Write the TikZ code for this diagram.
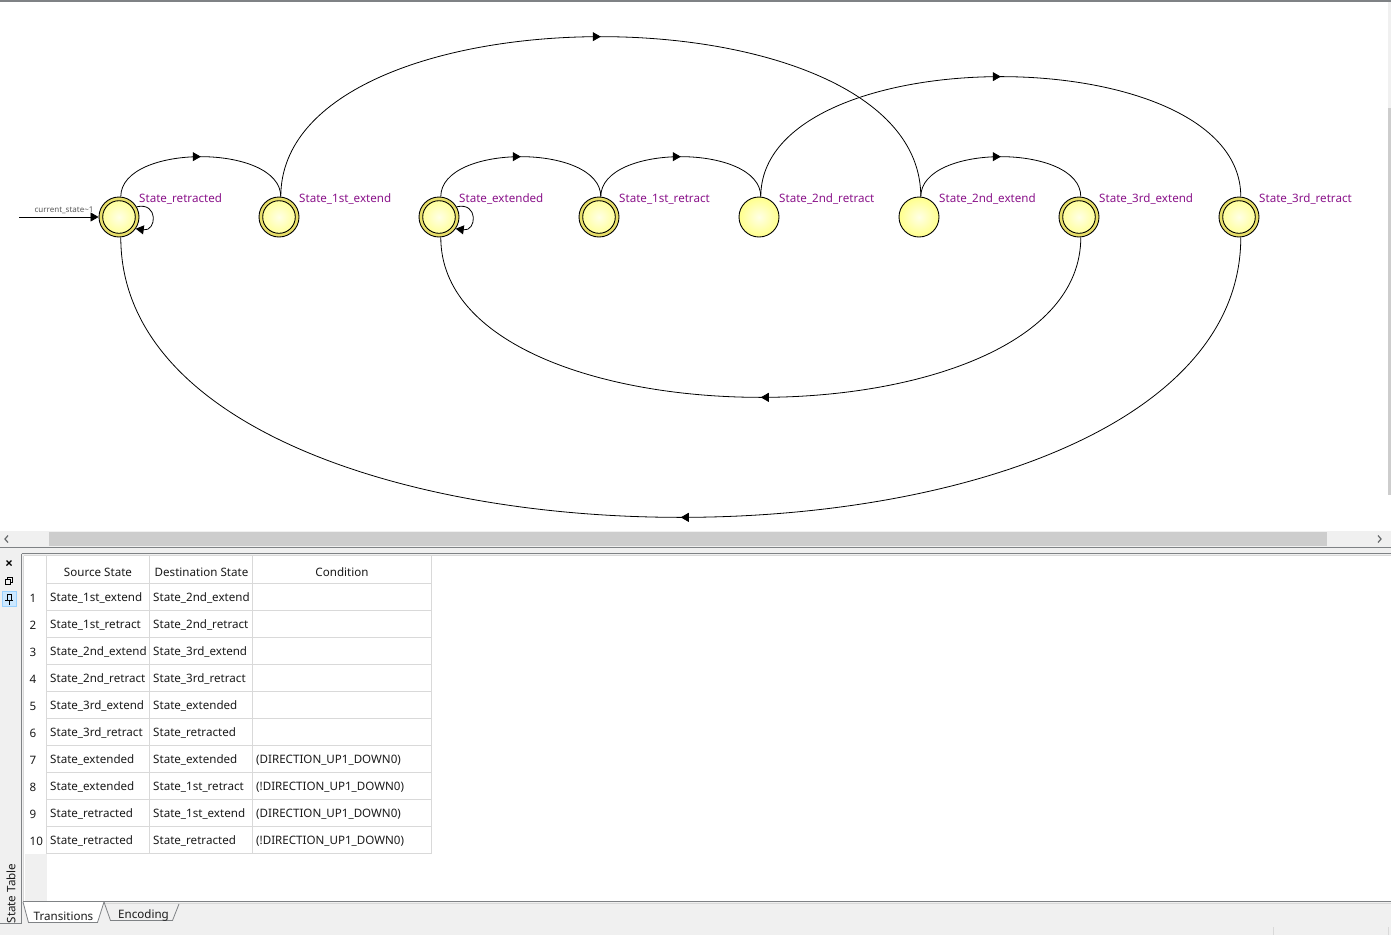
\documentclass[tikz,border=0pt]{standalone}
\usepackage{fontspec}
\setmainfont{Noto Sans}
\usetikzlibrary{arrows.meta,decorations.markings}
\definecolor{framegray}{HTML}{7F8285}
\definecolor{panelbg}{HTML}{F0F0F0}
\definecolor{gridc}{HTML}{D9D9D9}
\definecolor{thumb}{HTML}{CDCDCD}
\definecolor{labc}{HTML}{8A128A}
\definecolor{ringc}{HTML}{E9E06A}
\definecolor{fillin}{HTML}{FFFFE6}
\definecolor{fillout}{HTML}{FFFF8C}
\definecolor{txt}{HTML}{1A1A1A}
\definecolor{pinfill}{HTML}{CCE8FF}
\definecolor{pindraw}{HTML}{99D1FF}
\begin{document}
\begin{tikzpicture}[x=1pt,y=-1pt,
  font=\fontsize{11.6}{13}\selectfont,
  plain/.style={circle, draw, line width=0.9pt, minimum size=40pt, inner sep=0pt,
    inner color=fillin, outer color=fillout},
  accst/.style={circle, draw, line width=0.9pt, minimum size=40pt, inner sep=0pt,
    fill=ringc,
    path picture={\draw[line width=0.9pt, inner color=fillin, outer color=fillout]
      (path picture bounding box.center) circle (16.3pt);}},
  lab/.style={anchor=west, text=labc, inner sep=0pt},
  cell/.style={anchor=west, text=txt, inner sep=0pt},
  hcell/.style={anchor=center, text=txt, inner sep=0pt},
  edge/.style={line width=0.8pt},
  midarrow/.style={postaction={decorate}, decoration={markings,
    mark=at position 0.5 with {\arrow{Triangle[length=8pt,width=9pt]}}}},
  tipend/.style={-{Triangle[length=8pt,width=9pt]}}
]
\useasboundingbox (0,0) rectangle (1391,935);

% ---------- window chrome ----------
\fill[white] (0,0) rectangle (1391,531);
\draw[framegray, line width=1.5pt] (0,0.75) -- (1391,0.75);
% vertical scrollbar
\fill[panelbg] (1388,1.5) rectangle (1391,108);
\fill[thumb] (1388,108) rectangle (1391,495);
% horizontal scrollbar
\fill[panelbg] (0,531) rectangle (1391,547);
\fill[thumb] (49,532) rectangle (1327,546);
\draw[framegray!80!black, line width=1.2pt] (8,535.5) -- (5,539) -- (8,542.5);
\draw[framegray!80!black, line width=1.2pt] (1378,535.5) -- (1381,539) -- (1378,542.5);
\draw[framegray, line width=1pt] (0,547.5) -- (1391,547.5);
% lower panel background
\fill[panelbg] (0,548) rectangle (1391,935);
\draw[framegray, line width=0.9pt] (21.5,553.5) -- (1391,553.5);
\draw[framegray, line width=0.9pt] (21.5,553.5) -- (21.5,923.5) -- (0,923.5);
\draw[gridc, line width=0.9pt] (23.5,555.5) -- (1391,555.5);
\draw[gridc, line width=0.9pt] (23.5,555.5) -- (23.5,901);
% table area
\fill[white] (24,556) rectangle (1391,901);
\fill[panelbg] (25,853.5) rectangle (46.5,901);
\draw[framegray, line width=1pt] (23,901.5) -- (1391,901.5);
\draw[gridc, line width=1pt] (23,903.5) -- (1391,903.5);
\draw[gridc, line width=0.8pt] (1273,927) -- (1273,935);
\draw[gridc, line width=0.8pt] (1388,927) -- (1388,935);

% side-panel buttons
\draw[black, line width=1.1pt] (6.5,560.5) -- (11.5,565.5) (11.5,560.5) -- (6.5,565.5);
\draw[black, line width=1pt] (5.5,579.5) rectangle (10.5,584.5);
\draw[black, line width=1pt] (7.5,579.5) -- (7.5,577.5) -- (12.5,577.5) -- (12.5,582.5) -- (10.5,582.5);
\draw[pindraw, fill=pinfill] (2.5,591.5) rectangle (16.5,606.5);
\draw[black, line width=0.9pt] (7,594) rectangle (11,600) (5,600) -- (13,600) (9,600) -- (9,605);
\node[rotate=90, text=txt, inner sep=0pt] (sidetitle) at (11,893.5) {State Table};

% tabs
\draw[framegray, fill=white, line width=0.8pt] (23,902) -- (28.5,922.5) -- (97.5,922.5) -- (104,902);
\draw[framegray, line width=0.8pt] (104,902) -- (110.5,920.5) -- (172.5,920.5) -- (179,904);
\node[text=txt, inner sep=0pt] (tabtr) at (63.5,916) {Transitions};
\node[text=txt, inner sep=0pt] (tabenc) at (143.5,915) {Encoding};

% ---------- state table ----------
\foreach \k in {0,...,10}
  \draw[gridc, line width=0.9pt] (46.5,583.5+27*\k) -- (431.5,583.5+27*\k);
\foreach \xx in {46.5,149.5,252.5,431.5}
  \draw[gridc, line width=0.9pt] (\xx,556) -- (\xx,853.5);
\node[hcell] (hsrc) at (98,572) {Source State};
\node[hcell] (hdst) at (201.5,572) {Destination State};
\node[hcell] (hcond) at (342,572) {Condition};
\foreach \i/\src/\dst in {
  1/State\_1st\_extend/State\_2nd\_extend,
  2/State\_1st\_retract/State\_2nd\_retract,
  3/State\_2nd\_extend/State\_3rd\_extend,
  4/State\_2nd\_retract/State\_3rd\_retract,
  5/State\_3rd\_extend/State\_extended,
  6/State\_3rd\_retract/State\_retracted,
  7/State\_extended/State\_extended,
  8/State\_extended/State\_1st\_retract,
  9/State\_retracted/State\_1st\_extend,
  10/State\_retracted/State\_retracted}{
  \node[cell] (num\i) at (29.5,598+27*\i-27) {\i};
  \node[cell] (src\i) at (50,598+27*\i-27) {\src};
  \node[cell] (dst\i) at (153,598+27*\i-27) {\dst};
}
\node[cell] (cond7) at (256,760) {(DIRECTION\_UP1\_DOWN0)};
\node[cell] (cond8) at (256,787) {(!DIRECTION\_UP1\_DOWN0)};
\node[cell] (cond9) at (256,814) {(DIRECTION\_UP1\_DOWN0)};
\node[cell] (cond10) at (256,841) {(!DIRECTION\_UP1\_DOWN0)};

% ---------- state diagram ----------
\node[accst] (sR)  at (119,217) {};
\node[accst] (s1e) at (279,217) {};
\node[accst] (sE)  at (439,217) {};
\node[accst] (s1r) at (599,217) {};
\node[plain] (s2r) at (759,217) {};
\node[plain] (s2e) at (919,217) {};
\node[accst] (s3e) at (1079,217) {};
\node[accst] (s3r) at (1239,217) {};

\node[lab] (lR)  at ([shift={(20,-18)}]sR.center)  {State\_retracted};
\node[lab] (l1e) at ([shift={(20,-18)}]s1e.center) {State\_1st\_extend};
\node[lab] (lE)  at ([shift={(20,-18)}]sE.center)  {State\_extended};
\node[lab] (l1r) at ([shift={(20,-18)}]s1r.center) {State\_1st\_retract};
\node[lab] (l2r) at ([shift={(20,-18)}]s2r.center) {State\_2nd\_retract};
\node[lab] (l2e) at ([shift={(20,-18)}]s2e.center) {State\_2nd\_extend};
\node[lab] (l3e) at ([shift={(20,-18)}]s3e.center) {State\_3rd\_extend};
\node[lab] (l3r) at ([shift={(20,-18)}]s3r.center) {State\_3rd\_retract};

% initial transition
\coordinate (init) at (19,217);
\draw[edge, tipend] (init) -- (sR.west);
\node[text=black!65, inner sep=0pt, font=\fontsize{8}{9}\selectfont] (initlab) at (64,210) {current\_state\textasciitilde1};

% arcs over the top
\draw[edge, midarrow] (sR.85)  .. controls +(0,-53.3) and +(0,-53.3) .. (s1e.85);
\draw[edge, midarrow] (s1e.85) .. controls +(0,-213.3) and +(0,-213.3) .. (s2e.85);
\draw[edge, midarrow] (sE.85)  .. controls +(0,-53.3) and +(0,-53.3) .. (s1r.85);
\draw[edge, midarrow] (s1r.85) .. controls +(0,-53.3) and +(0,-53.3) .. (s2r.85);
\draw[edge, midarrow] (s2r.85) .. controls +(0,-160) and +(0,-160) .. (s3r.85);
\draw[edge, midarrow] (s2e.85) .. controls +(0,-53.3) and +(0,-53.3) .. (s3e.85);
% arcs underneath
\draw[edge, midarrow] (s3e.-85) .. controls +(0,213.3) and +(0,213.3) .. (sE.-85);
\draw[edge, midarrow] (s3r.-85) .. controls +(0,373.3) and +(0,373.3) .. (sR.-85);
% self loops
\draw[edge, tipend] (sR.30) .. controls +(22,-5) and +(21,3) .. (sR.-35);
\draw[edge, tipend] (sE.30) .. controls +(22,-5) and +(21,3) .. (sE.-35);
\end{tikzpicture}
\end{document}
